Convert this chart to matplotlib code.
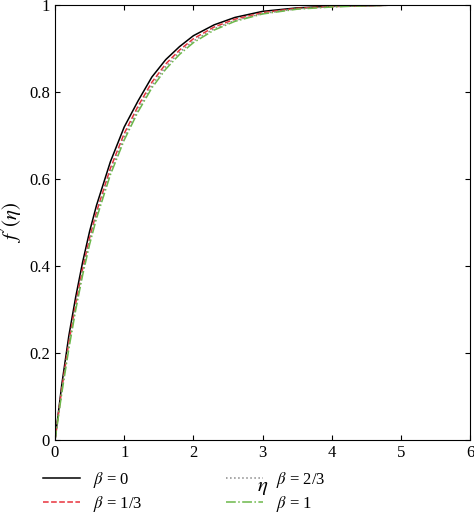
import matplotlib
matplotlib.use("Agg")
import matplotlib.pyplot as plt

eta = [0, 0.1, 0.2, 0.3, 0.4, 0.5, 0.6, 0.8, 1.0, 1.2, 1.4, 1.6, 1.8, 2.0, 2.3, 2.6, 3.0, 3.5, 4.0, 4.5, 4.8]
f0 = [0, 0.13, 0.24, 0.33, 0.41, 0.48, 0.54, 0.64, 0.72, 0.78, 0.835, 0.875, 0.905, 0.93, 0.955, 0.972, 0.986, 0.994, 0.998, 0.999, 1.0]
f1 = [0, 0.12, 0.225, 0.315, 0.395, 0.465, 0.525, 0.625, 0.705, 0.768, 0.823, 0.865, 0.897, 0.923, 0.95, 0.968, 0.983, 0.993, 0.997, 0.999, 1.0]
f2 = [0, 0.115, 0.218, 0.307, 0.387, 0.457, 0.517, 0.617, 0.697, 0.761, 0.816, 0.859, 0.892, 0.918, 0.946, 0.965, 0.981, 0.992, 0.997, 0.999, 1.0]
f3 = [0, 0.11, 0.21, 0.3, 0.38, 0.45, 0.51, 0.61, 0.69, 0.755, 0.81, 0.853, 0.887, 0.914, 0.943, 0.963, 0.98, 0.991, 0.996, 0.999, 1.0]
labels = [r"$\beta$ = 0", r"$\beta$ = 1/3", r"$\beta$ = 2/3", r"$\beta$ = 1"]

plt.rcParams['font.family'] = ['Liberation Serif', 'DejaVu Serif']
plt.rcParams['mathtext.fontset'] = 'stix'
fig = plt.figure(figsize=(4.74, 5.26), dpi=100)
ax = fig.add_axes([0.116, 0.163, 0.876, 0.827])
styles = [('black', '-'), ('#e8323c', '--'), ('#888888', ':'), ('#6cb84a', '-.')]
for y, (c, ls), lab in zip([f0, f1, f2, f3], styles, labels):
    ax.plot(eta, y, color=c, ls=ls, lw=1.1, label=lab)
ax.set_xlim(0, 6); ax.set_ylim(0, 1)
ax.set_xticks(range(7)); ax.set_yticks([0, 0.2, 0.4, 0.6, 0.8, 1])
ax.set_yticklabels(['0', '0.2', '0.4', '0.6', '0.8', '1'])
ax.tick_params(direction='in', labelsize=12, top=True, right=True)
ax.set_xlabel(r"$\eta$", fontsize=15, labelpad=12)
ax.set_ylabel(r"$f^{\prime}(\eta)$", fontsize=15)
fig.legend(loc='lower left', bbox_to_anchor=(0.06, -0.005), ncol=2, frameon=False,
           fontsize=12, columnspacing=5, handlelength=2.2, labelspacing=0.2)
fig.savefig("out.png")
